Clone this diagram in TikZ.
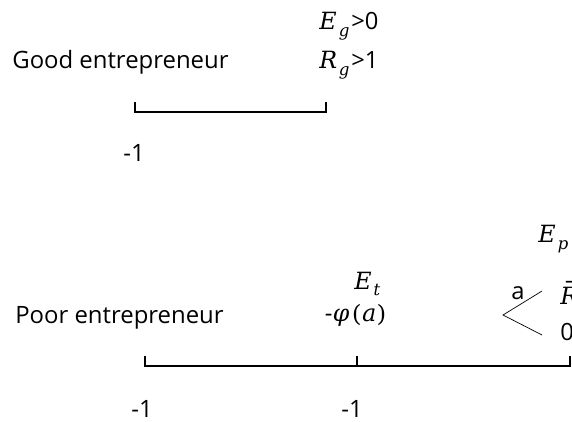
\documentclass[tikz,border=0pt]{standalone}
\usepackage{fontspec}
\usepackage{unicode-math}
\setmainfont{Open Sans}
\setmathfont{DejaVu Math TeX Gyre}
\usepackage{tikz}
\usetikzlibrary{arrows.meta}

\begin{document}
\begin{tikzpicture}[
    axis/.style={line width=1.5pt},
    lbl/.style={font=\fontsize{13.6}{16}\selectfont, inner sep=0pt},
    mlbl/.style={font=\fontsize{13.5}{16}\selectfont, inner sep=0pt}
]
    % canvas
    \useasboundingbox (0,0) rectangle (11.44,8.42);
    \clip (0,0) rectangle (11.44,8.42);

    % coordinates
    \coordinate (GoodL) at (2.70,6.18);
    \coordinate (GoodR) at (6.52,6.18);
    \coordinate (PoorL) at (2.90,1.10);
    \coordinate (PoorM) at (7.14,1.10);
    \coordinate (PoorR) at (11.40,1.10);
    \coordinate (Fork) at (10.06,2.12); % branching point
    \coordinate (ForkUp) at (10.84,2.60);
    \coordinate (ForkDown) at (10.84,1.72);

    % good entrepreneur
    \node[lbl, anchor=west] (GoodName) at (0.24,7.18) {Good entrepreneur};
    \draw[axis] (GoodL) ++(0,0.2) -- (GoodL) -- (GoodR) -- ++(0,0.2);
    \node[lbl] (GoodStart) at (2.68,5.36) {-1};
    \node[mlbl, anchor=west] (GoodE) at (6.34,7.90) {$E_g$>0};
    \node[mlbl, anchor=west] (GoodR1) at (6.34,7.12) {$R_g$>1};

    % poor entrepreneur
    \node[lbl, anchor=west] (PoorName) at (0.30,2.06) {Poor entrepreneur};
    \draw[axis] (PoorL) ++(0,0.2) -- (PoorL) -- (PoorR) -- ++(0,0.2);
    \draw[axis] (PoorM) -- ++(0,0.2);
    \node[lbl] (PoorStart) at (2.84,0.24) {-1};
    \node[lbl] (PoorMid) at (7.04,0.24) {-1};
    \node[mlbl] (PoorEt) at (7.36,2.74) {$E_t$};
    \node[mlbl] (PoorCost) at (7.12,2.12) {-$\varphi(a)$};
    \node[mlbl, anchor=east] (PoorEp) at (11.42,3.64) {$E_p$};

    % branches
    \draw[thin] (ForkUp) -- (Fork) -- (ForkDown);
    \node[mlbl] (ProbA) at (10.36,2.56) {a};
    \node[mlbl, anchor=west] (PoorRbar) at (11.16,2.56) {$\bar{R}$};
    \node[mlbl, anchor=west] (PoorZero) at (11.20,1.78) {0};

\end{tikzpicture}
\end{document}
